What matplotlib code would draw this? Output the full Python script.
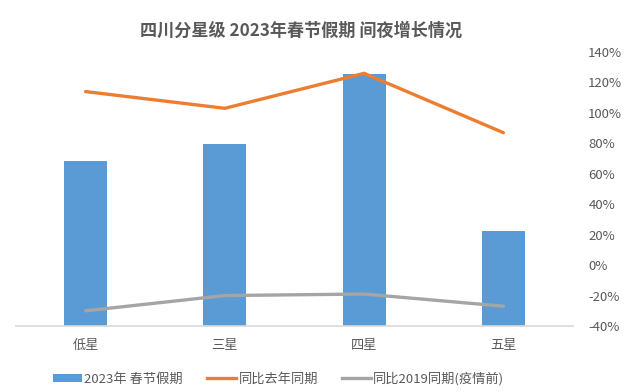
import numpy as np
import matplotlib.pyplot as plt
from matplotlib.ticker import FuncFormatter
from matplotlib.lines import Line2D
from matplotlib.patches import Patch

plt.rcParams['font.family'] = ['Noto Sans CJK SC', 'DejaVu Sans']

# Data
categories = ["低星", "三星", "四星", "五星"]
bar_values = [108.6, 119.6, 165.8, 62.2]      # 2023年 春节假期 (hidden primary axis)
yoy_last_year = [114, 103, 126, 87]           # 同比去年同期, %
yoy_2019 = [-30, -20, -19, -27]               # 同比2019同期(疫情前), %

title = "四川分星级 2023年春节假期 间夜增长情况"
series_names = ["2023年 春节假期", "同比去年同期", "同比2019同期(疫情前)"]

blue = "#5B9BD5"
orange = "#ED7D31"
gray = "#A5A5A5"
text_col = "#595959"

fig = plt.figure(figsize=(6.26, 3.92), dpi=100)
ax = fig.add_axes([16 / 626, 1 - 326 / 392, (573 - 16) / 626, (326 - 52) / 392])
x = np.arange(len(categories))

# bars on hidden primary axis
ax.bar(x, bar_values, width=0.31, color=blue, zorder=2)
ax.set_ylim(0, 180)
ax.set_xlim(-0.5, len(categories) - 0.5)
ax.set_yticks([])
for s in ["top", "left", "right"]:
    ax.spines[s].set_visible(False)
ax.spines["bottom"].set_color("#D9D9D9")
ax.spines["bottom"].set_linewidth(1.2)
ax.set_xticks(x)
ax.set_xticklabels(categories, fontsize=9.5, color=text_col)
ax.tick_params(axis="x", length=0, pad=9)

# lines on secondary axis
ax2 = ax.twinx()
ax2.plot(x, yoy_last_year, color=orange, lw=2.4, zorder=3, solid_capstyle="round")
ax2.plot(x, yoy_2019, color=gray, lw=2.4, zorder=3, solid_capstyle="round")
ax2.set_ylim(-40, 140)
ax2.set_yticks(np.arange(-40, 141, 20))
ax2.yaxis.set_major_formatter(FuncFormatter(lambda v, p: f"{v:.0f}%"))
ax2.tick_params(axis="y", length=0, pad=11, labelsize=9.5, labelcolor=text_col)
for s in ["top", "left", "right", "bottom"]:
    ax2.spines[s].set_visible(False)

fig.text(301 / 626, 1 - 31 / 392, title, ha="center", va="center",
         fontsize=12.3, fontweight="bold", color=text_col)

handles = [
    Patch(facecolor=blue, edgecolor="none"),
    Line2D([], [], color=orange, lw=2.4),
    Line2D([], [], color=gray, lw=2.4),
]
fig.legend(handles, series_names, loc="center", bbox_to_anchor=(0.445, 1 - 379 / 392),
           ncol=3, frameon=False, fontsize=9.5, labelcolor=text_col,
           handlelength=2.2, handleheight=0.6, handletextpad=0.2, columnspacing=1.8)

fig.savefig("out.png", dpi=100)
